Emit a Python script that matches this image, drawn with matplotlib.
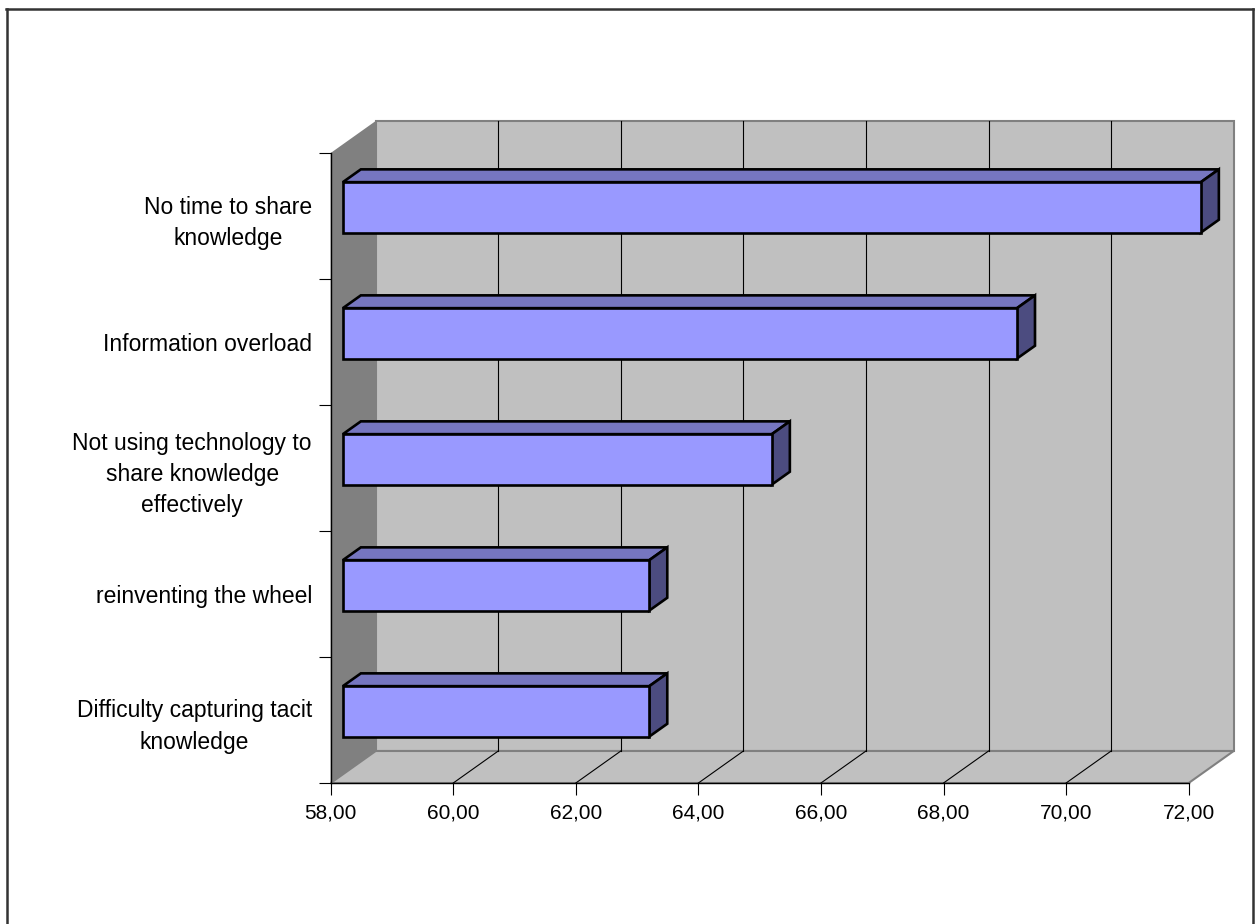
import numpy as np
import matplotlib
matplotlib.use('Agg')
import matplotlib.pyplot as plt
from matplotlib.patches import Polygon
from matplotlib.transforms import IdentityTransform
from matplotlib.lines import Line2D

plt.rcParams['font.family'] = ['Liberation Sans', 'DejaVu Sans']

# categories from top to bottom and their values
categories = ['No time to share\nknowledge',
              'Information overload',
              'Not using technology to\nshare knowledge\neffectively',
              'reinventing the wheel',
              'Difficulty capturing tacit\nknowledge']
values = [72.0, 69.0, 65.0, 63.0, 63.0]
xticks = [58, 60, 62, 64, 66, 68, 70, 72]
xmin, xmax = 58, 72

W, H, DPI = 1255, 924, 100
fig = plt.figure(figsize=(W / DPI, H / DPI), dpi=DPI)

# front plane of the pseudo 3d box, in pixels
left, right, top, bottom = 330.7, 1188.7, 153, 783
ax = fig.add_axes([left / W, (H - bottom) / H, (right - left) / W, (bottom - top) / H])
ax.set_xlim(xmin, xmax)
n = len(categories)
ax.set_ylim(-0.5, n - 0.5)
ax.patch.set_visible(False)
for s in ['top', 'right']:
    ax.spines[s].set_visible(False)
for s in ['left', 'bottom']:
    ax.spines[s].set_color('black')
    ax.spines[s].set_linewidth(1.0)
    ax.spines[s].set_zorder(5)

# depth offset of the back wall (pixels)
DX, DY = 45.0, 32.0
F0, F1 = 0.27, 0.67   # bar front / back depth


def pt(v, c, d):
    x, y = ax.transData.transform((v, c))
    return (x + d * DX, y + d * DY)


def poly(pts, fc, ec='none', lw=0.0, z=1):
    p = Polygon(pts, closed=True, facecolor=fc, edgecolor=ec, linewidth=lw,
                transform=IdentityTransform(), clip_on=False, zorder=z,
                joinstyle='miter')
    ax.add_artist(p)
    return p


def seg(a, b, color='black', lw=0.8, z=2):
    ax.add_artist(Line2D([a[0], b[0]], [a[1], b[1]], color=color, linewidth=lw,
                         transform=IdentityTransform(), clip_on=False, zorder=z))


y0, y1 = -0.5, n - 0.5
gray = '#c0c0c0'
# back wall
poly([pt(xmin, y0, 1), pt(xmax, y0, 1), pt(xmax, y1, 1), pt(xmin, y1, 1)],
     gray, '#808080', 1.5, z=1)
# side wall
poly([pt(xmin, y0, 0), pt(xmin, y1, 0), pt(xmin, y1, 1), pt(xmin, y0, 1)],
     '#808080', z=1.1)
# floor
poly([pt(xmin, y0, 0), pt(xmax, y0, 0), pt(xmax, y0, 1), pt(xmin, y0, 1)],
     gray, '#808080', 1.5, z=1.1)

# gridlines on wall and floor
for t in xticks[1:-1]:
    seg(pt(t, y0, 1), pt(t, y1, 1), lw=0.8, z=1.2)
    seg(pt(t, y0, 0), pt(t, y0, 1), lw=0.8, z=1.2)

# bars
h = 0.2
for i, v in enumerate(values):
    c = n - 1 - i
    poly([pt(xmin, c + h, F0), pt(v, c + h, F0), pt(v, c + h, F1), pt(xmin, c + h, F1)],
         '#7676c0', 'black', 1.9, z=3)
    poly([pt(v, c - h, F0), pt(v, c + h, F0), pt(v, c + h, F1), pt(v, c - h, F1)],
         '#4c4c80', 'black', 1.9, z=3)
    poly([pt(xmin, c - h, F0), pt(v, c - h, F0), pt(v, c + h, F0), pt(xmin, c + h, F0)],
         '#9999ff', 'black', 1.9, z=3.1)

# axes ticks and labels
ax.set_xticks(xticks)
ax.set_xticklabels([f'{t:.2f}'.replace('.', ',') for t in xticks], fontsize=15)
ax.tick_params(axis='x', direction='out', length=8.6, width=0.8, pad=6, colors='black')
ax.set_yticks(np.arange(n))
ax.set_yticklabels(categories[::-1], fontsize=16.5)
for lab in ax.get_yticklabels():
    lab.set_multialignment('center')
    lab.set_linespacing(1.45)
ax.set_yticks(np.arange(n + 1) - 0.5, minor=True)
ax.tick_params(axis='y', which='major', length=0, pad=13.5)
ax.tick_params(axis='y', which='minor', direction='out', length=9, width=0.8)

# chart area border
bc = '#333333'
fig.add_artist(Line2D([6 / W, 1253 / W], [1 - 9 / H, 1 - 9 / H], color=bc, linewidth=1.8,
                      transform=fig.transFigure))
fig.add_artist(Line2D([6.5 / W, 6.5 / W], [0, 1 - 9 / H], color=bc, linewidth=1.8,
                      transform=fig.transFigure))
fig.add_artist(Line2D([1253 / W, 1253 / W], [0, 1 - 9 / H], color=bc, linewidth=1.8,
                      transform=fig.transFigure))

fig.savefig('out.png', dpi=DPI)
